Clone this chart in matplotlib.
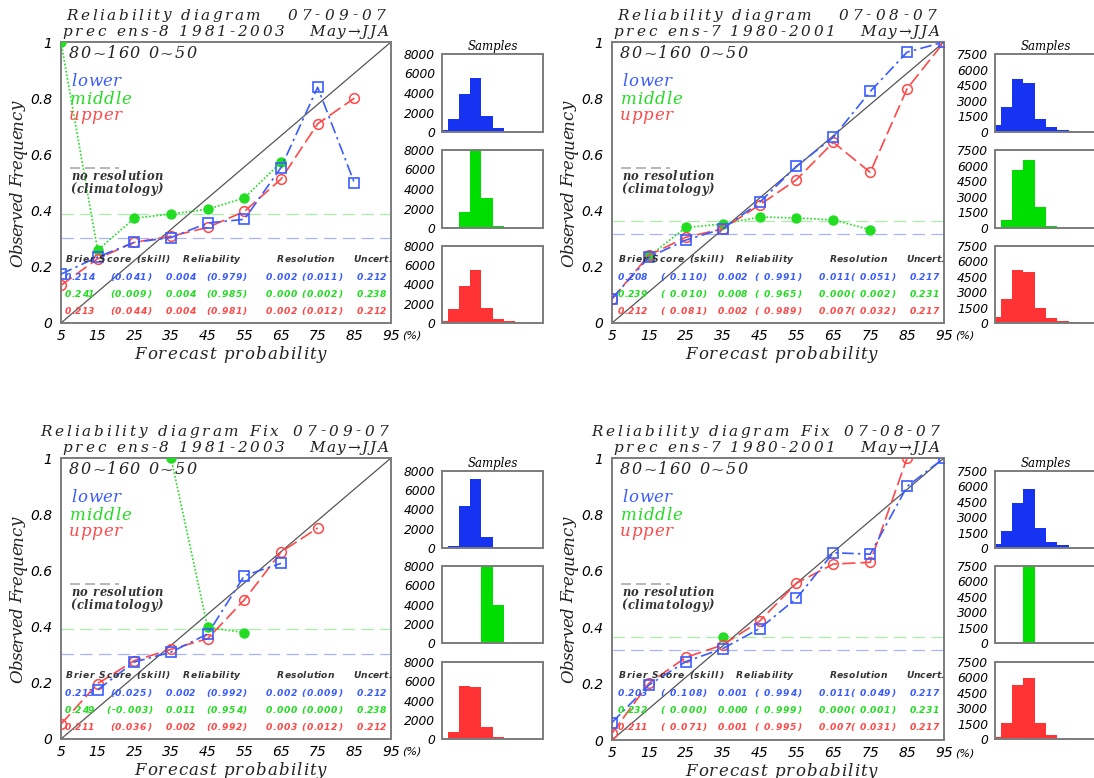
import numpy as np
import matplotlib
matplotlib.use("Agg")
import matplotlib.pyplot as plt
from matplotlib.font_manager import FontProperties, findfont, get_font

nan = np.nan

# Forecast probability bins (%)
prob = [5, 15, 25, 35, 45, 55, 65, 75, 85, 95]

# ---- Panel 1: 07-09-07, ens-8 1981-2003 ----
p1_lower = [0.174, 0.235, 0.287, 0.304, 0.356, 0.369, 0.553, 0.839, 0.499, nan]
p1_middle = [1.0, 0.259, 0.373, 0.388, 0.405, 0.445, 0.572, nan, nan, nan]
p1_upper = [0.134, 0.229, 0.287, 0.309, 0.340, 0.397, 0.512, 0.709, 0.800, nan]
p1_clim = {"upper": 0.302, "lower": 0.302, "middle": 0.389}
p1_hist_lower = [240, 1330, 3930, 5500, 1600, 410, 100, 30, 30, 0]
p1_hist_middle = [20, 50, 1640, 8150, 3080, 200, 30, 0, 0, 0]
p1_hist_upper = [240, 1410, 3860, 5520, 1550, 410, 170, 50, 50, 0]
p1_scores = [
    ["0.214", "(0.041)", "0.004", "(0.979)", "0.002 (0.011)", "0.212"],
    ["0.241", "(0.009)", "0.004", "(0.985)", "0.000 (0.002)", "0.238"],
    ["0.213", "(0.044)", "0.004", "(0.981)", "0.002 (0.012)", "0.212"],
]

# ---- Panel 2: 07-08-07, ens-7 1980-2001 ----
p2_lower = [0.087, 0.234, 0.295, 0.335, 0.429, 0.558, 0.661, 0.824, 0.964, 1.0]
p2_middle = [nan, 0.237, 0.340, 0.352, 0.377, 0.374, 0.367, 0.332, nan, nan]
p2_upper = [0.085, 0.241, 0.305, 0.335, 0.420, 0.510, 0.643, 0.536, 0.834, 1.0]
p2_clim = {"upper": 0.317, "lower": 0.317, "middle": 0.364}
p2_hist_lower = [700, 2400, 5130, 4710, 1280, 480, 220, 60, 30, 0]
p2_hist_middle = [20, 800, 5580, 6540, 1990, 160, 10, 0, 0, 0]
p2_hist_upper = [610, 2320, 5150, 4960, 1450, 480, 160, 60, 30, 0]
p2_scores = [
    ["0.208", "( 0.110)", "0.002", "( 0.991)", "0.011( 0.051)", "0.217"],
    ["0.239", "( 0.010)", "0.008", "( 0.965)", "0.000( 0.002)", "0.231"],
    ["0.212", "( 0.081)", "0.002", "( 0.989)", "0.007( 0.032)", "0.217"],
]

# ---- Panel 3: Fix 07-09-07, ens-8 1981-2003 ----
p3_lower = [nan, 0.175, 0.274, 0.309, 0.374, 0.581, 0.625, nan, nan, nan]
p3_middle = [nan, nan, nan, 1.0, 0.397, 0.379, nan, nan, nan, nan]
p3_upper = [0.053, 0.197, 0.279, 0.319, 0.357, 0.495, 0.665, 0.751, nan, nan]
p3_clim = {"upper": 0.303, "lower": 0.303, "middle": 0.390}
p3_hist_lower = [20, 200, 4410, 7140, 1170, 100, 30, 0, 0, 0]
p3_hist_middle = [0, 0, 0, 20, 9080, 3970, 0, 0, 0, 0]
p3_hist_upper = [20, 720, 5480, 5380, 1240, 200, 30, 30, 0, 0]
p3_scores = [
    ["0.213", "(0.025)", "0.002", "(0.992)", "0.002 (0.009)", "0.212"],
    ["0.249", "(-0.003)", "0.011", "(0.954)", "0.000 (0.000)", "0.238"],
    ["0.211", "(0.036)", "0.002", "(0.992)", "0.003 (0.012)", "0.212"],
]

# ---- Panel 4: Fix 07-08-07, ens-7 1980-2001 ----
p4_lower = [0.062, 0.195, 0.278, 0.324, 0.395, 0.502, 0.664, 0.659, 0.899, 1.0]
p4_middle = [nan, nan, nan, 0.364, nan, nan, nan, nan, nan, nan]
p4_upper = [0.024, 0.201, 0.293, 0.337, 0.421, 0.556, 0.624, 0.630, 1.0, nan]
p4_clim = {"upper": 0.320, "lower": 0.320, "middle": 0.364}
p4_hist_lower = [350, 1610, 4410, 5700, 1900, 580, 290, 100, 50, 0]
p4_hist_middle = [0, 0, 20, 14950, 20, 0, 0, 0, 0, 0]
p4_hist_upper = [160, 1580, 5250, 5920, 1510, 420, 100, 40, 40, 0]
p4_scores = [
    ["0.203", "( 0.108)", "0.001", "( 0.994)", "0.011( 0.049)", "0.217"],
    ["0.232", "( 0.000)", "0.000", "( 0.999)", "0.000( 0.001)", "0.231"],
    ["0.211", "( 0.071)", "0.001", "( 0.995)", "0.007( 0.031)", "0.217"],
]

y_ticks = [0, 0.2, 0.4, 0.6, 0.8, 1]
y_ticklabels = ["0", "0.2", "0.4", "0.6", "0.8", "1"]
score_header = ["Brier Score (skill)", "Reliability", "Resolution", "Uncert."]

W, H = 1094, 778
DPI = 100
fig = plt.figure(figsize=(W / DPI, H / DPI), dpi=DPI)
fig.patch.set_facecolor("white")

LINE_COL = {"lower": "#3a5cff", "middle": "#22dd22", "upper": "#ff4848"}
BAR_COL = {"lower": "#1533f0", "middle": "#00dd00", "upper": "#ff3333"}
CLIM_COL = {"lower": "#a8b4ff", "middle": "#a8eea8"}
FRAME = "#7c7c7c"
SERIF = dict(family="DejaVu Serif", style="italic")
SANS = dict(family="DejaVu Sans", style="italic")


def px_axes(left, top, right, bottom):
    return fig.add_axes([left / W, 1 - bottom / H, (right - left) / W, (bottom - top) / H])


def tracked(x0, x1, base, s, size, color="#222222", weight="normal", vertical=False,
            family="DejaVu Serif"):
    """Write s in italic with extra letter spacing so it runs from pixel x0
    to x1 (for vertical text: from row x0 up to row x1), with the baseline at
    pixel position base."""
    prop = FontProperties(family=family, style="italic", weight=weight, size=size)
    font = get_font(findfont(prop))
    font.set_size(size, DPI)
    advs = [font.load_char(ord(ch)).linearHoriAdvance / 65536 for ch in s]
    span = abs(x1 - x0)
    k = (span - sum(advs)) / len(s)
    pos = k / 2
    for ch, a in zip(s, advs):
        c = pos + a / 2
        pos += a + k
        if ch == " ":
            continue
        if vertical:
            fig.text(base / W, 1 - (x0 - c) / H, ch, rotation=90, rotation_mode="anchor",
                     ha="center", va="baseline", fontsize=size, color=color,
                     weight=weight, family=family, style="italic")
        else:
            fig.text((x0 + c) / W, 1 - base / H, ch, ha="center", va="baseline",
                     fontsize=size, color=color, weight=weight, family=family,
                     style="italic")


def style_frame(ax):
    for s in ax.spines.values():
        s.set_color(FRAME)
        s.set_linewidth(1.4)
    ax.tick_params(length=0)


# score table column layout (pixel offsets from the panel's left edge)
HEAD_POS = {False: [(4.7, 109.0), (121.7, 179.7), (216.0, 273.3), (292.3, 330.7)],
            True: [(6.3, 111.3), (123.7, 181.3), (217.3, 275.3), (294.0, 332.3)]}
COL_START = {False: [4.0, 49.0, 104.7, 144.7, 204.7, 295.7],
             True: [5.7, 48.0, 105.7, 142.3, 206.7, 297.3]}
CHAR_PITCH = 5.9


def main_panel(ax, box, title1, title2, fix, wide, lower, middle, upper, clim, scores):
    L, T, R, B = box
    style_frame(ax)
    ax.set_xlim(5, 95)
    ax.set_ylim(0, 1)
    ax.set_xticks(prob)
    ax.set_xticklabels([str(p) for p in prob], fontsize=10, **SANS)
    ax.set_yticks(y_ticks)
    ax.set_yticklabels(y_ticklabels, fontsize=10, **SANS)
    ax.tick_params(axis="x", pad=4)
    ax.tick_params(axis="y", pad=6)

    # perfect reliability diagonal
    ax.plot([5, 95], [0, 1], color="#555555", lw=0.9, zorder=2)

    # climatology (no resolution) lines; upper and lower share the same base rate
    for key in ["lower", "middle"]:
        ax.axhline(clim[key], color=CLIM_COL[key], lw=0.9, ls=(0, (10, 5)), zorder=1)

    ax.plot(prob, middle, color=LINE_COL["middle"], lw=1.2, ls=(0, (1, 1.2)),
            marker="o", ms=6.5, mfc=LINE_COL["middle"], mec=LINE_COL["middle"], zorder=3)
    ax.plot(prob, upper, color=LINE_COL["upper"], lw=1.2, ls=(0, (8, 3)),
            marker="o", ms=7, mfc="none", mec=LINE_COL["upper"], mew=1.1, zorder=4)
    ax.plot(prob, lower, color=LINE_COL["lower"], lw=1.2, ls=(0, (7, 2.5, 1.5, 2.5)),
            marker="s", ms=7.5, mfc="none", mec=LINE_COL["lower"], mew=1.2, zorder=5)

    # labels inside the frame
    tracked(L + 7, L + 136, T + 16.5, "80~160 0~50", 11.5)
    tracked(L + 10, L + 60, T + 44, "lower", 12, LINE_COL["lower"])
    tracked(L + 8, L + 71, T + 61.5, "middle", 12, LINE_COL["middle"])
    tracked(L + 7, L + 61, T + 78.5, "upper", 12, LINE_COL["upper"])
    ax.plot([7.5, 20.8], [0.553, 0.553], color="#aaaaaa", lw=1.2, ls=(0, (6, 3)), zorder=2)
    tracked(L + 10, L + 102, T + 138, "no resolution", 8.3, "#333333", "bold")
    tracked(L + 9, L + 102, T + 151, "(climatology)", 8.3, "#333333", "bold")

    # score table
    for txt, (a, b) in zip(score_header, HEAD_POS[wide]):
        tracked(L + a, L + b, T + 220.4, txt, 6.6, "#333333", "bold", family="DejaVu Sans")
    for row, base, key in zip(scores, [237.7, 255.1, 272.4], ["lower", "middle", "upper"]):
        for txt, x in zip(row, COL_START[wide]):
            x0 = x - 4.0 if txt.startswith("(-") else x
            tracked(L + x0, L + x0 + CHAR_PITCH * len(txt), T + base, txt, 6.6,
                    LINE_COL[key], "bold", family="DejaVu Sans")

    # axis titles
    tracked(L + 73, L + 266, B + 36, "Forecast probability", 12)
    tracked(T + 225, T + 60, L - 38.5, "Observed Frequency", 12, vertical=True)
    ax.text(1 + 21 / (R - L), -13 / (B - T), "(%)", transform=ax.transAxes, fontsize=8,
            ha="center", va="center", **SANS)

    # two-line title
    t1_left, t1_right = title1
    t2_left, t2_right = title2
    if fix:
        tracked(L - 22, L + 219, T - 22.5, t1_left, 11)
        tracked(L + 230, L + 329, T - 22.5, t1_right, 11)
    else:
        tracked(L + 4, L + 201, T - 22.5, t1_left, 11)
        tracked(L + 224, L + 326, T - 22.5, t1_right, 11)
    tracked(L + 0, L + 225, T - 5.7, t2_left, 11)
    tracked(L + 247, L + 328, T - 5.7, t2_right, 11)


def hist_panel(axes, hists, ymax, ticks):
    for ax, counts, key in zip(axes, hists, ["lower", "middle", "upper"]):
        style_frame(ax)
        ax.bar(prob, counts, width=10, color=BAR_COL[key], edgecolor="none", zorder=2)
        ax.set_xlim(5, 95)
        ax.set_ylim(0, ymax)
        ax.set_xticks([])
        ax.set_yticks(ticks)
        ax.set_yticklabels([str(t) for t in ticks], fontsize=8.8, **SANS)
        ax.tick_params(axis="y", pad=5)
    axes[0].set_title("Samples", fontsize=8.5, pad=3, **SERIF)


hist_y_top = [(54, 132), (150, 228), (246, 323)]
hist_y_bot = [(471, 548), (566, 643), (662, 739)]

panels = [
    ((61, 42, 391, 323), 442, 543, hist_y_top, False, False,
     ("Reliability diagram", "07-09-07"), ("prec ens-8 1981-2003", "May\u2192JJA"),
     p1_lower, p1_middle, p1_upper, p1_clim, p1_scores,
     [p1_hist_lower, p1_hist_middle, p1_hist_upper], 8000, [0, 2000, 4000, 6000, 8000]),
    ((612, 42, 944, 323), 995, 1097, hist_y_top, False, True,
     ("Reliability diagram", "07-08-07"), ("prec ens-7 1980-2001", "May\u2192JJA"),
     p2_lower, p2_middle, p2_upper, p2_clim, p2_scores,
     [p2_hist_lower, p2_hist_middle, p2_hist_upper], 7500, [0, 1500, 3000, 4500, 6000, 7500]),
    ((61, 458, 391, 739), 442, 543, hist_y_bot, True, False,
     ("Reliability diagram Fix", "07-09-07"), ("prec ens-8 1981-2003", "May\u2192JJA"),
     p3_lower, p3_middle, p3_upper, p3_clim, p3_scores,
     [p3_hist_lower, p3_hist_middle, p3_hist_upper], 8000, [0, 2000, 4000, 6000, 8000]),
    ((612, 458, 944, 740), 995, 1097, hist_y_bot, True, True,
     ("Reliability diagram Fix", "07-08-07"), ("prec ens-7 1980-2001", "May\u2192JJA"),
     p4_lower, p4_middle, p4_upper, p4_clim, p4_scores,
     [p4_hist_lower, p4_hist_middle, p4_hist_upper], 7500, [0, 1500, 3000, 4500, 6000, 7500]),
]

for (box, hx0, hx1, hys, fix, wide, t1, t2, lo, mi, up, clim, sc, hists, ymax,
     ticks) in panels:
    ax = px_axes(*box)
    main_panel(ax, box, t1, t2, fix, wide, lo, mi, up, clim, sc)
    haxes = [px_axes(hx0, a, hx1, b) for a, b in hys]
    hist_panel(haxes, hists, ymax, ticks)

fig.savefig("out.png", dpi=DPI, facecolor="white")
